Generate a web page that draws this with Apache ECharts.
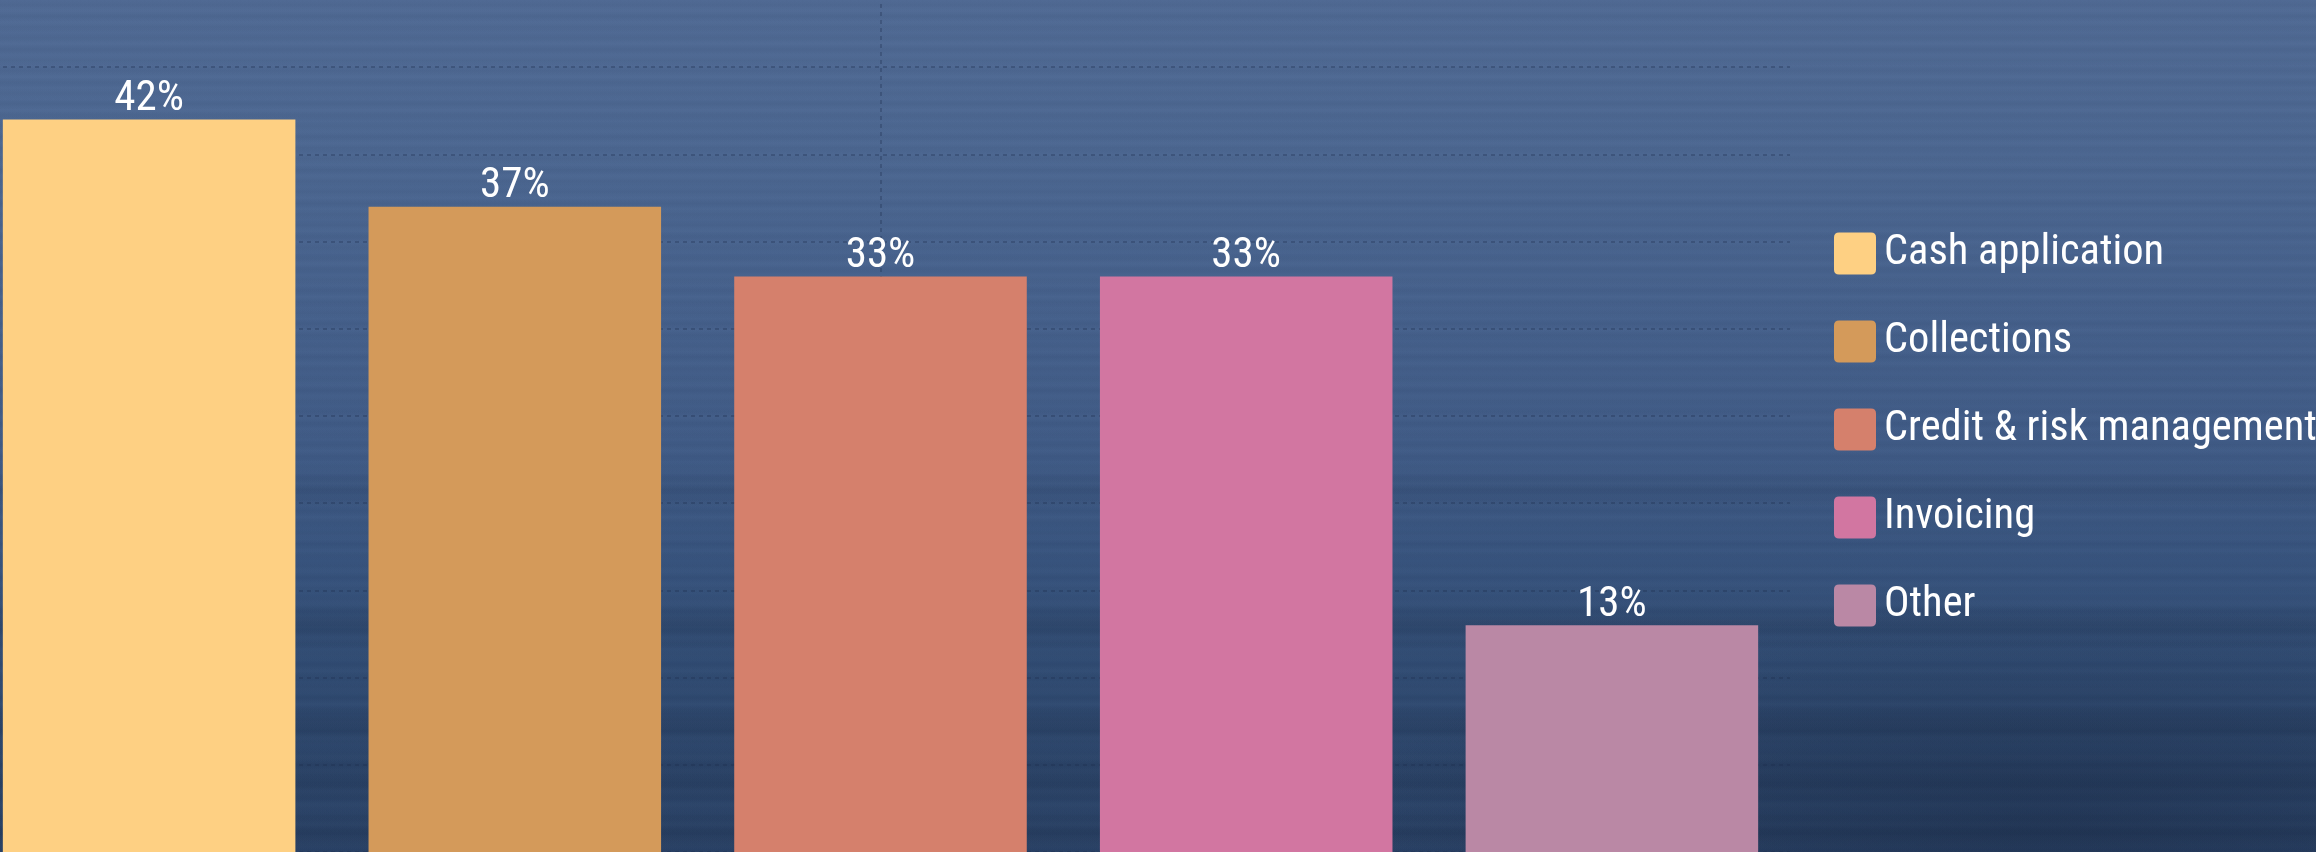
<!DOCTYPE html>
<html>
<head>
<meta charset="utf-8">
<script src="https://cdn.jsdelivr.net/npm/echarts@6/dist/echarts.min.js"></script>
<style>
  html, body { margin: 0; padding: 0; width: 2316px; height: 852px; overflow: hidden; }
  #chart {
    width: 2316px; height: 852px;
    background:
      /* darker water in the lower right corner */
      radial-gradient(ellipse 700px 220px at 2050px 820px, rgba(20, 34, 58, 0.35), rgba(20, 34, 58, 0) 100%),
      /* fine horizontal ripples on the water, two periods for an uneven texture */
      repeating-linear-gradient(180deg,
        rgba(18, 32, 58, 0) 0px, rgba(18, 32, 58, 0.06) 5px, rgba(18, 32, 58, 0) 11px),
      repeating-linear-gradient(180deg,
        rgba(130, 160, 200, 0) 0px, rgba(130, 160, 200, 0.04) 8px, rgba(130, 160, 200, 0) 17px),
      /* broader darker swells towards the bottom */
      linear-gradient(180deg,
        rgba(0,0,0,0) 0px, rgba(0,0,0,0) 470px,
        rgba(15,28,50,0.10) 490px, rgba(0,0,0,0) 510px,
        rgba(0,0,0,0) 600px, rgba(15,28,50,0.16) 625px, rgba(0,0,0,0) 650px,
        rgba(0,0,0,0) 705px, rgba(15,28,50,0.16) 725px, rgba(0,0,0,0) 745px,
        rgba(15,28,50,0.14) 785px, rgba(0,0,0,0) 805px,
        rgba(15,28,50,0.16) 835px, rgba(0,0,0,0) 852px),
      linear-gradient(180deg,
        #506a94 0%, #4c6791 18%, #46618c 35%, #405b86 52%,
        #37537d 66%, #304b72 78%, #2c456a 90%, #2a4266 100%);
  }
</style>
</head>
<body>
<div id="chart"></div>
<script>
// Share of respondents by accounts-receivable area
const categories = ['AR area'];
const seriesNames = ['Cash application', 'Collections', 'Credit & risk management', 'Invoicing', 'Other'];
const seriesValues = [42, 37, 33, 33, 13];
const seriesColors = ['#FED083', '#D49A5A', '#D5806C', '#D276A1', '#BA88A5'];
const yMin = 0, yMax = 50, yInterval = 5;

const textFont = '"Roboto Condensed", Roboto, sans-serif';
const gridLine = { color: 'rgba(30, 46, 76, 0.42)', width: 1.5, type: [4, 4] };

const chart = echarts.init(document.getElementById('chart'), null, { renderer: 'canvas' });

chart.setOption({
  backgroundColor: 'transparent',
  animation: false,
  grid: { left: -29, right: 526, top: -20, bottom: 0, containLabel: false, outerBoundsMode: 'none' },
  xAxis: {
    type: 'category',
    data: categories,
    axisLabel: { show: false },
    axisTick: { show: false },
    axisLine: { show: false },
    splitLine: { show: true, alignWithLabel: true, lineStyle: gridLine }
  },
  yAxis: {
    type: 'value',
    min: yMin, max: yMax, interval: yInterval,
    axisLabel: { show: false },
    axisTick: { show: false },
    axisLine: { show: false },
    splitLine: { show: true, lineStyle: gridLine }
  },
  legend: {
    orient: 'vertical',
    left: 1829,
    top: 227,
    itemWidth: 42,
    itemHeight: 42,
    itemGap: 45,
    selectedMode: false,
    icon: 'path://M5,0H37Q42,0 42,5V37Q42,42 37,42H5Q0,42 0,37V5Q0,0 5,0Z',
    textStyle: { color: '#ffffff', fontSize: 42.5, fontFamily: textFont, padding: [4, 0, 0, 3] },
    data: seriesNames
  },
  series: seriesNames.map((name, i) => ({
    type: 'bar',
    name: name,
    data: [seriesValues[i]],
    barGap: '25%',
    barCategoryGap: '3.5%',
    itemStyle: { color: seriesColors[i] },
    label: {
      show: true,
      position: 'top',
      distance: -1,
      formatter: '{c}%',
      color: '#ffffff',
      fontSize: 43,
      fontFamily: textFont
    }
  }))
});
</script>
</body>
</html>
